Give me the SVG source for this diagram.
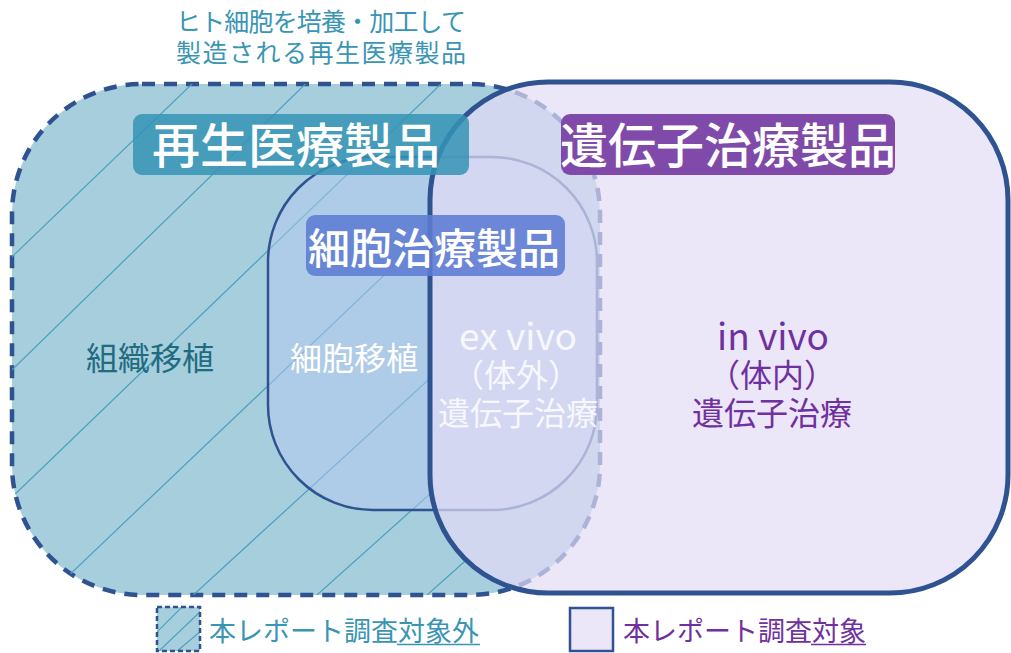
<svg xmlns="http://www.w3.org/2000/svg" width="1011" height="653" viewBox="0 0 1011 653">
<style>
text{font-family:"Noto Sans CJK JP","Noto Sans",sans-serif;}
.hatch{stroke:#4aa0c0;stroke-width:1.2;fill:none;}
.lbl{fill:#ffffff;text-anchor:middle;font-weight:500;}
.mid{text-anchor:middle;font-size:32px;}
.lat{text-anchor:middle;font-size:37px;}
.teal{fill:#3a95b5;}
.purp{fill:#7030a0;}
.wht{fill:#f7f7fd;}
</style>
<defs>
<clipPath id="cDash"><rect x="12" y="84" width="588" height="511" rx="130" ry="130"/></clipPath>
<clipPath id="cNoGene"><path clip-rule="evenodd" d="M0 0H1011V653H0Z M548 82H890A118 118 0 0 1 1008 200V475A118 118 0 0 1 890 593H548A118 118 0 0 1 430 475V200A118 118 0 0 1 548 82Z"/></clipPath>
<clipPath id="cLeg"><rect x="157" y="607" width="43" height="44"/></clipPath>
</defs>
<rect width="1011" height="653" fill="#ffffff"/>

<g id="caption">
<text class="teal" x="321" y="31" font-size="25" text-anchor="middle" textLength="290">ヒト細胞を培養・加工して</text>
<text class="teal" x="321" y="62" font-size="25" text-anchor="middle" textLength="290">製造される再生医療製品</text>
</g>

<g id="regenerative">
<rect x="12" y="84" width="588" height="511" rx="130" ry="130" fill="#a7cedc" stroke="#2f5291" stroke-width="4.5" stroke-dasharray="13 9"/>
<g clip-path="url(#cDash)"><g clip-path="url(#cNoGene)">
<line class="hatch" x1="217" y1="60" x2="-33" y2="300"/>
<line class="hatch" x1="330" y1="60" x2="-20" y2="401"/>
<line class="hatch" x1="469" y1="57" x2="-20" y2="528"/>
<line class="hatch" x1="463" y1="200" x2="22" y2="620"/>
<line class="hatch" x1="450" y1="360" x2="166" y2="620"/>
<line class="hatch" x1="470" y1="458" x2="289" y2="620"/>
<line class="hatch" x1="500" y1="530" x2="399" y2="620"/>
</g></g>
</g>

<g id="cell">
<rect x="268" y="157" width="329" height="353" rx="105" ry="105" fill="rgb(182,200,242)" fill-opacity="0.5" stroke="#2f5291" stroke-width="2.5"/>
</g>

<g id="gene">
<rect x="430" y="82" width="578" height="511" rx="118" ry="118" fill="rgb(226,219,245)" fill-opacity="0.7" stroke="#2f5291" stroke-width="5"/>
</g>

<g id="label-regen">
<rect x="133" y="114" width="336" height="61" rx="9" fill="#3593b5" fill-opacity="0.85"/>
<text class="lbl" x="296" y="163" style="font-size:48px">再生医療製品</text>
</g>
<g id="label-gene">
<rect x="561" y="114" width="334" height="61" rx="9" fill="#7f4aa9"/>
<text class="lbl" x="728" y="163" style="font-size:48px">遺伝子治療製品</text>
</g>
<g id="label-cell">
<rect x="306" y="215" width="259" height="61" rx="9" fill="#5f7cd4" fill-opacity="0.88"/>
<text class="lbl" x="434" y="264" style="font-size:42px">細胞治療製品</text>
</g>

<g id="tissue">
<text class="mid" x="150" y="370" fill="#1f6b80">組織移植</text>
</g>
<g id="celltx">
<text class="mid" x="354" y="370" fill="#ffffff">細胞移植</text>
</g>
<g id="exvivo">
<text class="lat wht" x="518" y="350">ex vivo</text>
<text class="mid wht" x="516" y="387">（体外）</text>
<text class="mid wht" x="518" y="425">遺伝子治療</text>
</g>
<g id="invivo">
<text class="lat purp" x="773" y="350">in vivo</text>
<text class="mid purp" x="772" y="387">（体内）</text>
<text class="mid purp" x="772" y="425">遺伝子治療</text>
</g>

<g id="legend-out">
<rect x="157" y="607" width="43" height="44" fill="#a7cedc"/>
<g clip-path="url(#cLeg)">
<line class="hatch" x1="155" y1="634" x2="183" y2="606"/>
<line class="hatch" x1="158" y1="652" x2="202" y2="610"/>
<line class="hatch" x1="176" y1="652" x2="202" y2="630"/>
</g>
<rect x="157" y="607" width="43" height="44" fill="none" stroke="#2f5291" stroke-width="2.5" stroke-dasharray="5 3"/>
<text class="teal" x="209" y="641" font-size="27" textLength="270">本レポート調査対象外</text>
<line x1="397" y1="644.5" x2="480" y2="644.5" stroke="#3a95b5" stroke-width="1.5"/>
</g>
<g id="legend-in">
<rect x="570" y="608" width="43" height="43" fill="#ebe6f8" stroke="#2f5291" stroke-width="2.5"/>
<text class="purp" x="623" y="641" font-size="27" textLength="243">本レポート調査対象</text>
<line x1="811" y1="644.5" x2="866" y2="644.5" stroke="#7030a0" stroke-width="1.5"/>
</g>
</svg>
